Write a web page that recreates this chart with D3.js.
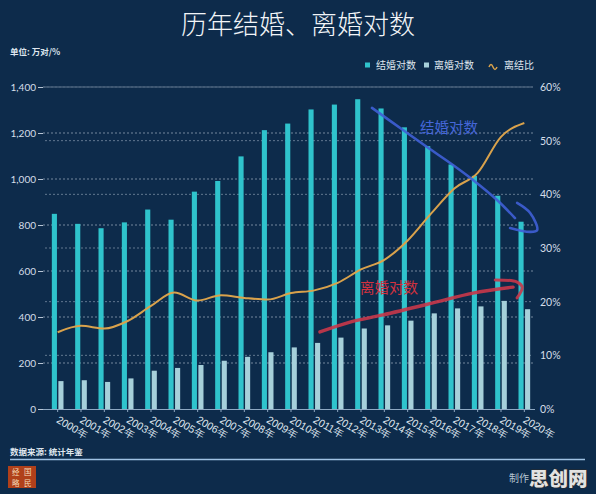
<!DOCTYPE html>
<html>
<head>
<meta charset="utf-8">
<script src="https://cdn.jsdelivr.net/npm/d3@7"></script>
<style>
  body { margin: 0; background: #0d2b4b; }
  svg { display: block; font-family: "Noto Sans CJK SC", "Noto Sans", sans-serif; }
</style>
</head>
<body>
<svg id="chart" width="596" height="494"></svg>
<script>
// data (万对 / %)
const years = [2000,2001,2002,2003,2004,2005,2006,2007,2008,2009,2010,2011,2012,2013,2014,2015,2016,2017,2018,2019,2020];
const marriages = [848.5,805.0,786.0,811.4,867.2,823.1,945.0,991.4,1098.3,1212.4,1241.0,1302.4,1323.6,1346.9,1306.7,1224.7,1142.8,1063.1,1013.9,927.3,814.3];
const divorces = [121.3,125.1,117.7,133.0,166.5,178.5,191.3,209.8,226.9,246.8,267.8,287.4,310.4,350.0,363.7,384.1,415.8,437.4,446.1,470.1,433.9];
const ratio = [14.3,15.5,15.0,16.4,19.2,21.7,20.2,21.2,20.7,20.4,21.6,22.1,23.5,26.0,27.8,31.4,36.4,41.1,44.0,50.7,53.3];
const leftTicks = [0,200,400,600,800,1000,1200,1400];
const rightTicks = [0,10,20,30,40,50,60];
const seriesNames = ["结婚对数","离婚对数","离结比"];

// hand-drawn notes on the picture, in (year, 万对)
const blueStroke = [[2013.47,1309],[2014.8,1213],[2015.83,1139],[2016.94,1061],[2017.8,996],[2018.83,909],[2019.6,830]];
const blueHook = [[2019.69,896],[2020.25,852],[2020.55,778],[2020.25,770],[2019.39,787]];
const redStroke = [[2011.24,335],[2012.53,378],[2013.94,409],[2016.08,461],[2017.8,504],[2019.52,530]];
const redHook = [[2018.75,561],[2019.69,552],[2019.91,530],[2019.69,483]];
const notes = [{text:"结婚对数", year:2016.77, value:1222, color:"#4566d8"},
               {text:"离婚对数", year:2014.2, value:526, color:"#d2323f"}];

const svg = d3.select("#chart");
const W = 596, H = 494;
svg.append("rect").attr("width", W).attr("height", H).attr("fill", "#0d2b4b");

const plotL = 43, plotR = 535, plotT = 87, plotB = 409;

const x0 = d3.scaleBand().domain(years).range([46, 536]).paddingInner(0.5).paddingOuter(0.25);
const x1 = d3.scaleBand().domain(["m","d"]).range([0, x0.bandwidth()]).paddingInner(0.22);
const yL = d3.scaleLinear().domain([0, 1400]).range([plotB, plotT]);
const yR = d3.scaleLinear().domain([0, 60]).range([plotB, plotT]);
const xc = d3.scaleLinear().domain([2000, 2020])
  .range([x0(2000) + x0.bandwidth() / 2, x0(2020) + x0.bandwidth() / 2]);

// title
svg.append("text").attr("x", 298).attr("y", 34).attr("text-anchor", "middle")
  .attr("fill", "#f2f5f8").attr("font-size", 26).attr("font-weight", 300)
  .text("历年结婚、离婚对数");
svg.append("text").attr("x", 10).attr("y", 55).attr("fill", "#dfe6ee")
  .attr("font-size", 8.5).attr("font-weight", 700).text("单位: 万对/%");

// grid lines (both scales)
svg.append("g").selectAll("line").data(leftTicks.slice(1)).join("line")
  .attr("x1", plotL).attr("x2", 533).attr("y1", d => yL(d)).attr("y2", d => yL(d))
  .attr("stroke", "#b8c6d6").attr("stroke-opacity", 0.6).attr("stroke-dasharray", "2,2");
svg.append("g").selectAll("line").data(rightTicks.slice(1)).join("line")
  .attr("x1", 45).attr("x2", 533).attr("y1", d => yR(d)).attr("y2", d => yR(d))
  .attr("stroke", "#b8c6d6").attr("stroke-opacity", 0.5).attr("stroke-dasharray", "2,2");

// bars
const groups = svg.append("g").selectAll("g").data(years).join("g")
  .attr("transform", d => `translate(${x0(d)},0)`);
groups.append("rect")
  .attr("x", x1("m")).attr("width", x1.bandwidth())
  .attr("y", (d, i) => yL(marriages[i])).attr("height", (d, i) => plotB - yL(marriages[i]))
  .attr("fill", "#2fc3cc");
groups.append("rect")
  .attr("x", x1("d")).attr("width", x1.bandwidth())
  .attr("y", (d, i) => yL(divorces[i])).attr("height", (d, i) => plotB - yL(divorces[i]))
  .attr("fill", "#a6d0da");

// ratio line
const line = d3.line().x((d, i) => xc(years[i])).y(d => yR(d)).curve(d3.curveMonotoneX);
svg.append("path").datum(ratio).attr("d", line).attr("fill", "none")
  .attr("stroke", "#d9a24c").attr("stroke-width", 2);

// axes
const axL = svg.append("g").attr("transform", `translate(${plotL},0)`)
  .call(d3.axisLeft(yL).tickValues(leftTicks).tickSize(5).tickPadding(2).tickFormat(d3.format(",")));
axL.select(".domain").remove();
axL.selectAll("line").attr("stroke", "#b8c6d6");
axL.selectAll("text").attr("fill", "#d5dee8").attr("font-size", 10).attr("font-family", "Lato, sans-serif");

const axR = svg.append("g").attr("transform", `translate(${plotR},0)`)
  .call(d3.axisRight(yR).tickValues(rightTicks).tickSize(0).tickPadding(5).tickFormat(d => d + "%"));
axR.select(".domain").remove();
axR.selectAll("text").attr("fill", "#d5dee8").attr("font-size", 10.5).attr("font-family", "Lato, sans-serif");

const axB = svg.append("g").attr("transform", `translate(0,${plotB})`)
  .call(d3.axisBottom(x0).tickSizeInner(3).tickSizeOuter(0).tickFormat(d => d + "年"));
axB.select(".domain").attr("stroke", "#8ea8c2").attr("d", `M${plotL},0.5H${plotR}`);
axB.selectAll("line").attr("stroke", "#8ea8c2");
axB.selectAll("text")
  .attr("y", 0).attr("dy", 0)
  .attr("transform", "translate(-2,13) rotate(30)")
  .attr("text-anchor", "start")
  .attr("fill", "#dfe6ee").attr("font-size", 10.5);

// legend
const lg = svg.append("g").attr("font-size", 10).attr("fill", "#dfe6ee");
lg.append("rect").attr("x", 365).attr("y", 62.5).attr("width", 5).attr("height", 5).attr("fill", "#2fc3cc");
lg.append("text").attr("x", 376).attr("y", 69).text(seriesNames[0]);
lg.append("rect").attr("x", 424).attr("y", 62.5).attr("width", 5).attr("height", 5).attr("fill", "#a6d0da");
lg.append("text").attr("x", 434).attr("y", 69).text(seriesNames[1]);
lg.append("path").attr("d", "M489,67 q2,-5 4,0 t4,0").attr("fill", "none")
  .attr("stroke", "#d9a24c").attr("stroke-width", 1.5);
lg.append("text").attr("x", 504).attr("y", 69).text(seriesNames[2]);

// hand-drawn annotations
const nl = d3.line().x(d => xc(d[0])).y(d => yL(d[1])).curve(d3.curveCatmullRom);
[[blueStroke, "#3f5fd6", 2.6], [blueHook, "#3f5fd6", 2.6], [redStroke, "#c9374a", 3.4], [redHook, "#c9374a", 3]]
  .forEach(([pts, c, w]) => {
    svg.append("path").datum(pts).attr("d", nl).attr("fill", "none")
      .attr("stroke", c).attr("stroke-width", w).attr("stroke-linecap", "round").attr("opacity", 0.9);
  });
svg.append("g").selectAll("text").data(notes).join("text")
  .attr("x", d => xc(d.year)).attr("y", d => yL(d.value) + 5)
  .attr("text-anchor", "middle").attr("font-size", 14.5)
  .attr("fill", d => d.color).text(d => d.text);

// footer
svg.append("text").attr("x", 10).attr("y", 455).attr("fill", "#dfe6ee")
  .attr("font-size", 8.5).attr("font-weight", 700).text("数据来源: 统计年鉴");
svg.append("line").attr("x1", 10).attr("x2", 585).attr("y1", 459.5).attr("y2", 459.5)
  .attr("stroke", "#9fc2e4").attr("stroke-width", 1.5);
const logo = svg.append("g").attr("transform", "translate(8,466)");
logo.append("rect").attr("width", 28).attr("height", 22).attr("fill", "#b0401a");
[["经", 4, 9], ["国", 16, 9], ["略", 4, 20], ["民", 16, 20]].forEach(([t, lx, ly]) => {
  logo.append("text").attr("x", lx).attr("y", ly).attr("font-size", 7.5)
    .attr("fill", "#f4dcb8").text(t);
});
svg.append("text").attr("x", 509).attr("y", 482).attr("fill", "#b5c3d2")
  .attr("font-size", 10).text("制作");
svg.append("text").attr("x", 529).attr("y", 486).attr("fill", "#e2e2e2")
  .attr("stroke", "#2a2a2a").attr("stroke-width", 1.2).attr("paint-order", "stroke")
  .attr("font-size", 19.5).attr("font-weight", 900).text("思创网");
</script>
</body>
</html>
